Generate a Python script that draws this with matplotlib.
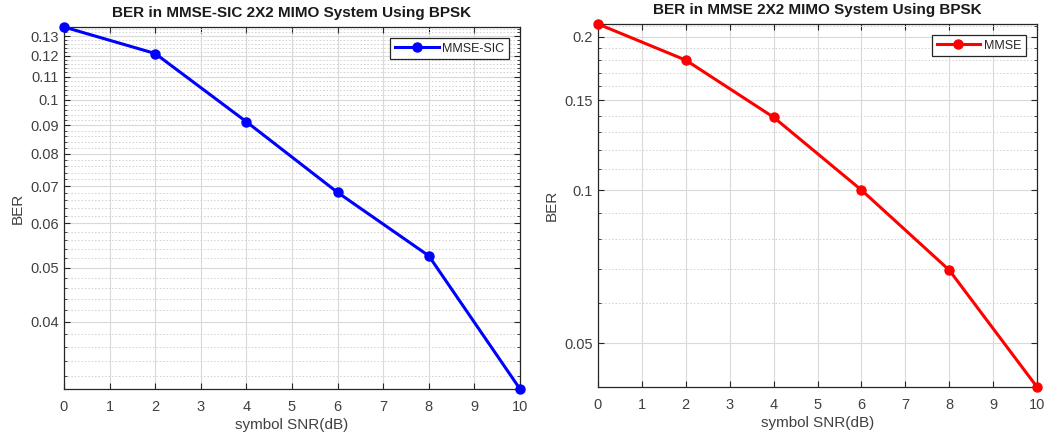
import numpy as np
import matplotlib
matplotlib.use("Agg")
import matplotlib.pyplot as plt
from matplotlib.ticker import FixedLocator, FixedFormatter, NullFormatter

plt.rcParams['font.family'] = ['Liberation Sans', 'DejaVu Sans']

snr = [0, 2, 4, 6, 8, 10]
ber_sic = [0.135, 0.121, 0.0913, 0.0682, 0.0525, 0.0303]
ber_mmse = [0.212, 0.180, 0.139, 0.100, 0.0696, 0.041]

left_ticks = [0.04, 0.05, 0.06, 0.07, 0.08, 0.09, 0.1, 0.11, 0.12, 0.13]
left_labels = ['0.04', '0.05', '0.06', '0.07', '0.08', '0.09', '0.1', '0.11', '0.12', '0.13']
right_ticks = [0.05, 0.1, 0.15, 0.2]
right_labels = ['0.05', '0.1', '0.15', '0.2']

titles = ['BER in MMSE-SIC 2X2 MIMO System Using BPSK', 'BER in MMSE 2X2 MIMO System Using BPSK']
legends = ['MMSE-SIC', 'MMSE']
colors = ['#0000FF', '#FF0000']

fig = plt.figure(figsize=(10.45, 4.36), dpi=100)
ax1 = fig.add_axes([64/1045, 47/436, 456/1045, 362/436])
ax2 = fig.add_axes([598/1045, 49/436, 439/1045, 363/436])

axc = '#262626'
cfg = [
    (ax1, ber_sic, left_ticks, left_labels,
     [v/1000 for v in range(32, 136, 2) if v % 10 != 0], 4),
    (ax2, ber_mmse, right_ticks, right_labels,
     [v/100 for v in range(5, 22) if v % 5 != 0], 4),
]

for i, (ax, y, ticks, labels, minors, ypad) in enumerate(cfg):
    ax.plot(snr, y, '-o', color=colors[i], lw=2.2, ms=6.5, label=legends[i], clip_on=False, zorder=5)
    ax.set_yscale('log')
    ax.set_xlim(0, 10)
    ax.set_ylim(min(y), max(y))
    ax.set_xticks(range(0, 11))
    ax.yaxis.set_major_locator(FixedLocator(ticks))
    ax.yaxis.set_major_formatter(FixedFormatter(labels))
    ax.yaxis.set_minor_locator(FixedLocator(minors))
    ax.yaxis.set_minor_formatter(NullFormatter())
    ax.tick_params(which='both', direction='in', top=True, right=True, colors=axc, labelcolor='#404040', labelsize=10.5)
    ax.tick_params(which='major', length=4, width=0.8)
    ax.tick_params(which='minor', length=2.5, width=0.6)
    ax.tick_params(axis='x', which='major', pad=8)
    ax.grid(True, which='major', color='#d9d9d9', lw=0.8, ls='-')
    ax.grid(True, which='minor', axis='y', color='#d0d0d0', lw=0.7, ls=(0, (1.5, 2)))
    ax.set_axisbelow(True)
    for s in ax.spines.values():
        s.set_color(axc)
        s.set_linewidth(0.9)
    ax.set_title(titles[i], fontsize=11, fontweight='bold', color='#1a1a1a', pad=7)
    ax.set_xlabel('symbol SNR(dB)', fontsize=11, color='#404040', labelpad=3)
    ax.set_ylabel('BER', fontsize=11, color='#404040', labelpad=ypad)
    leg = ax.legend(loc='upper right', fontsize=9, frameon=True, fancybox=False, framealpha=1,
                    edgecolor='#262626', borderpad=0.35, handlelength=3.5, handletextpad=0.3,
                    borderaxespad=0.9)
    leg.get_frame().set_linewidth(0.9)
    for t in leg.get_texts():
        t.set_color('#262626')

fig.savefig('out.png', dpi=100)
